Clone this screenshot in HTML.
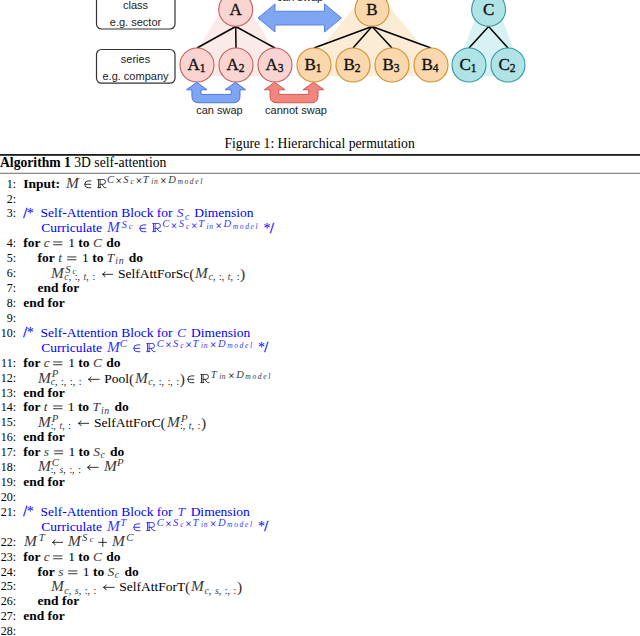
<!DOCTYPE html>
<html><head><meta charset="utf-8">
<style>
html,body{margin:0;padding:0;background:#fff;}
body{width:640px;height:636px;position:relative;overflow:hidden;font-family:"Liberation Serif",serif;color:#000;}
#dg{position:absolute;left:0;top:0;}
.cap{position:absolute;white-space:nowrap;font-size:13.5px;line-height:20px;height:20px;}
.ln{position:absolute;left:0;width:640px;white-space:nowrap;font-size:13.5px;line-height:20px;height:20px;}
.no{position:absolute;right:624px;}
.tx{position:absolute;}
b{font-weight:bold;}
i{font-style:italic;opacity:0.8;}
.cm{color:#0000ff;}
.rule{position:absolute;left:0;width:640px;background:#000;}
.sp{position:relative;font-size:10.8px;line-height:0;letter-spacing:0.4px;}
.sb{position:relative;font-size:9.8px;line-height:0;word-spacing:1.2px;}
.ss{position:relative;font-size:8.4px;line-height:0;letter-spacing:0.5px;margin-left:0.8px;}
.stk{display:inline-grid;line-height:0;}
.stk>.sp,.stk>.sb{grid-area:1/1;}
.sym{vertical-align:-1px;}
.in{margin:0 5px 0 5px;}
.rr{margin-right:0.6px;}
.eq{margin:0 5.2px 0 3.6px;}
.pl{margin:0 4.4px 0 3.6px;}
.ar{margin:0 4.6px 0 6.5px;}
.M{display:inline-block;transform:scale(1.14,1.04);transform-origin:0 14.56px;margin-right:1.9px;}
.S{margin-right:0.6px;}
.D{margin-right:0.8px;}
.C{margin-right:1px;}
.s{margin-right:1px;}
.Mp{margin-left:1.5px;}
.t{margin-right:1.8px;}
.T{margin-right:0.9px;}
.ls{letter-spacing:0.7px;}
.dsp{display:inline-block;width:4.6px;}
.tm{}
.ab{display:inline-block;position:relative;height:0;vertical-align:baseline;}
.ai{position:absolute;line-height:0;white-space:nowrap;}
.cend{margin-left:4px;}
.ast{font-size:14px;position:relative;top:0.3px;}
.sl{font-size:14px;position:relative;top:0.4px;margin-left:-0.6px;-webkit-text-stroke:0.3px currentColor;}
.pa{font-size:15.5px;position:relative;top:0.9px;margin:0 -0.4px 0 -0.2px;opacity:0.85;}
.pr{margin:0 -0.2px 0 0.6px;}
.csp{display:inline-block;width:6.9px;}
.sl2{font-size:14px;position:relative;top:0.4px;-webkit-text-stroke:0.3px currentColor;}
.ast2{font-size:14px;position:relative;top:0.3px;margin-left:-0.4px;}
.no{font-size:12px;}
</style></head><body>
<svg id="dg" width="640" height="125" viewBox="0 0 640 125">
  <!-- triangles -->
  <polygon points="235.7,-14 182,76 289.4,76" fill="#fbebe8"/>
  <polygon points="372,-14 297.3,76 446.7,76" fill="#fcebd5"/>
  <polygon points="488.6,-16 453.2,76 524,76" fill="#d8f1f3"/>
  <!-- edges -->
  <g stroke="#000" stroke-width="1.5" fill="none">
    <line x1="235.7" y1="26.5" x2="197" y2="48"/>
    <line x1="235.7" y1="26.5" x2="236" y2="48"/>
    <line x1="235.7" y1="26.5" x2="275" y2="48"/>
    <line x1="372" y1="26.5" x2="314" y2="48"/>
    <line x1="372" y1="26.5" x2="353" y2="48"/>
    <line x1="372" y1="26.5" x2="392" y2="48"/>
    <line x1="372" y1="26.5" x2="431" y2="48"/>
    <line x1="488.6" y1="26.5" x2="469" y2="48"/>
    <line x1="488.6" y1="26.5" x2="508" y2="48"/>
  </g>
  <!-- circles -->
  <g stroke-width="1.1">
    <circle cx="235.7" cy="9.3" r="17" fill="#f9d4d1" stroke="#c0605a"/>
    <circle cx="197" cy="65" r="17" fill="#f9d4d1" stroke="#c0605a"/>
    <circle cx="236" cy="65" r="17" fill="#f9d4d1" stroke="#c0605a"/>
    <circle cx="275" cy="65" r="17" fill="#f9d4d1" stroke="#c0605a"/>
    <circle cx="372" cy="9.3" r="17" fill="#fad7ac" stroke="#d0902f"/>
    <circle cx="314" cy="65" r="17" fill="#fad7ac" stroke="#d0902f"/>
    <circle cx="353" cy="65" r="17" fill="#fad7ac" stroke="#d0902f"/>
    <circle cx="392" cy="65" r="17" fill="#fad7ac" stroke="#d0902f"/>
    <circle cx="431" cy="65" r="17" fill="#fad7ac" stroke="#d0902f"/>
    <circle cx="488.6" cy="9.3" r="17" fill="#b0e3e6" stroke="#2e9aa2"/>
    <circle cx="469" cy="65" r="17" fill="#b0e3e6" stroke="#2e9aa2"/>
    <circle cx="508" cy="65" r="17" fill="#b0e3e6" stroke="#2e9aa2"/>
  </g>
  <!-- labels -->
  <g font-family="Liberation Serif" font-size="17" fill="#111" stroke="#111" stroke-width="0.35" text-anchor="middle">
    <text x="235.7" y="14.7">A</text>
    <text x="372" y="14.7">B</text>
    <text x="488.6" y="14.7">C</text>
  </g>
  <g font-family="Liberation Serif" font-size="17" fill="#111" stroke="#111" stroke-width="0.35">
    <text x="187.5" y="70.1">A<tspan font-size="11.5" dy="2">1</tspan></text>
    <text x="226.5" y="70.1">A<tspan font-size="11.5" dy="2">2</tspan></text>
    <text x="265.5" y="70.1">A<tspan font-size="11.5" dy="2">3</tspan></text>
    <text x="304.5" y="70.1">B<tspan font-size="11.5" dy="2">1</tspan></text>
    <text x="343.5" y="70.1">B<tspan font-size="11.5" dy="2">2</tspan></text>
    <text x="382.5" y="70.1">B<tspan font-size="11.5" dy="2">3</tspan></text>
    <text x="421.5" y="70.1">B<tspan font-size="11.5" dy="2">4</tspan></text>
    <text x="459.5" y="70.1">C<tspan font-size="11.5" dy="2">1</tspan></text>
    <text x="498.5" y="70.1">C<tspan font-size="11.5" dy="2">2</tspan></text>
  </g>
  <!-- boxes -->
  <g fill="#fff" stroke="#333" stroke-width="1.2">
    <rect x="96.5" y="-5" width="78.5" height="34" rx="5"/>
    <rect x="96.5" y="49.5" width="78.5" height="33.7" rx="5"/>
  </g>
  <g font-family="Liberation Sans" font-size="11" fill="#222" text-anchor="middle">
    <text x="135.5" y="9.2">class</text>
    <text x="135.5" y="25.7">e.g. sector</text>
    <text x="135.5" y="63">series</text>
    <text x="135.5" y="79.5">e.g. company</text>
    <text x="219.5" y="113.8">can swap</text>
    <text x="296" y="113.8">cannot swap</text>
    <text x="300" y="1.3">can swap</text>
  </g>
  <!-- double arrow -->
  <polygon points="258,18 275,3.9 275,11.25 324.5,11.25 324.5,3.9 341.4,18 324.5,32 324.5,25 275,25 275,32" fill="#7ea6f2" stroke="#5a80e6" stroke-width="1"/>
  <!-- U arrows -->
  <path d="M196.8,82.3 L207,89.75 L201,89.75 L201,94.4 L231.2,94.4 L231.2,89.75 L225,89.75 L235.5,82.3 L245.7,89.75 L240,89.75 L240,96 Q240,102.75 233.2,102.75 L198.7,102.75 Q191.9,102.75 191.9,96 L191.9,89.75 L186.5,89.75 Z" fill="#7ea6f2" stroke="#4f74e0" stroke-width="1" stroke-linejoin="round"/>
  <path d="M274.6,82.3 L285,89.75 L278.8,89.75 L278.8,94.4 L308.8,94.4 L308.8,89.75 L303,89.75 L313.6,82.3 L323.8,89.75 L318,89.75 L318,96 Q318,102.75 311.2,102.75 L276.8,102.75 Q270,102.75 270,96 L270,89.75 L264.4,89.75 Z" fill="#f0877f" stroke="#d9534f" stroke-width="1" stroke-linejoin="round"/>
</svg>

<div class="cap" style="left:224.4px;top:134.3px;font-size:13.7px">Figure 1: Hierarchical permutation</div>
<div class="rule" style="top:154px;height:1px;background:#1a1a1a"></div><div class="rule" style="top:155px;height:1px;background:#4a4a4a"></div>
<div class="rule" style="top:172px;height:1px;background:#e0e0e0"></div><div class="rule" style="top:173px;height:1px;background:#8a8a8a"></div>
<div class="ln" style="top:153.1px;font-size:13.65px"><span class="tx" style="left:0"><b>Algorithm 1</b> 3D self-attention</span></div>

<div id="alg">
<div class="ln" style="top:173.65px"><span class="no">1:</span><span class="tx " style="left:23.2px"><b>Input:</b><span style="margin-left:6.3px"></span><i class="M">M</i><svg class="sym in" style="margin:0 4.4px 0 3.8px" width="9" height="10" viewBox="0 0 9 10"><path d="M8.3,1.9H5.2A3.4,3.4 0 0 0 5.2,8.7H8.3M1.6,5.3H8.1" fill="none" stroke="currentColor" stroke-width="0.8"/></svg><svg class="sym rr" width="10" height="10" viewBox="0 0 10 10"><path d="M0.3,0.4H6A2.45,2.45 0 0 1 6,5.3H2.6M1.5,0.4V8.6M3.1,0.4V8.6M0.3,8.6H4.2M4.6,5.3L7.4,8.6H9.4" fill="none" stroke="currentColor" stroke-width="0.75"/></svg><span class="ab" style="width:97px"><span class="ai" style="left:-0.3px;top:-8.08px;font-size:10.6px;"><i>C</i></span><span class="ai" style="left:8.0px;top:-6.85px;font-size:12px;">×</span><span class="ai" style="left:16.1px;top:-8.08px;font-size:10.6px;"><i>S</i></span><span class="ai" style="left:23.4px;top:-5.76px;font-size:7.6px;"><i>c</i></span><span class="ai" style="left:28.2px;top:-6.85px;font-size:12px;">×</span><span class="ai" style="left:35.6px;top:-8.08px;font-size:10.6px;"><i>T</i></span><span class="ai" style="left:44.0px;top:-5.76px;font-size:7.6px;letter-spacing:0.6px"><i>in</i></span><span class="ai" style="left:52.8px;top:-6.85px;font-size:12px;">×</span><span class="ai" style="left:61.0px;top:-8.08px;font-size:10.6px;"><i>D</i></span><span class="ai" style="left:70.2px;top:-5.76px;font-size:7.6px;letter-spacing:1.6px"><i>model</i></span></span></span></div>
<div class="ln" style="top:188.57px"><span class="no">2:</span></div>
<div class="ln" style="top:203.49px"><span class="no">3:</span><span class="tx cm" style="left:23.2px"><span class="sl2">/</span><span class="ast2">*</span><span class="csp"></span>Self-Attention Block for <i class="S" style="margin-left:0.7px;margin-right:1.6px">S</i><span class="sb" style="top:2.2px"><i>c</i></span><span class="dsp" style="width:5px"></span>Dimension</span></div>
<div class="ln" style="top:218.41px"><span class="tx cm" style="left:41.2px">Curriculate <span style="margin-left:1.3px"></span><i class="M">M</i><span class="sp" style="top:-4.9px"><i class="S" style="margin-left:1.8px">S</i><span class="ss" style="top:1.6px"><i>c</i></span></span><svg class="sym in" width="9" height="10" viewBox="0 0 9 10"><path d="M8.3,1.9H5.2A3.4,3.4 0 0 0 5.2,8.7H8.3M1.6,5.3H8.1" fill="none" stroke="currentColor" stroke-width="0.8"/></svg><svg class="sym rr" width="10" height="10" viewBox="0 0 10 10"><path d="M0.3,0.4H6A2.45,2.45 0 0 1 6,5.3H2.6M1.5,0.4V8.6M3.1,0.4V8.6M0.3,8.6H4.2M4.6,5.3L7.4,8.6H9.4" fill="none" stroke="currentColor" stroke-width="0.75"/></svg><span class="ab" style="width:97px"><span class="ai" style="left:-0.3px;top:-8.08px;font-size:10.6px;"><i>C</i></span><span class="ai" style="left:8.0px;top:-6.85px;font-size:12px;">×</span><span class="ai" style="left:16.1px;top:-8.08px;font-size:10.6px;"><i>S</i></span><span class="ai" style="left:23.4px;top:-5.76px;font-size:7.6px;"><i>c</i></span><span class="ai" style="left:28.2px;top:-6.85px;font-size:12px;">×</span><span class="ai" style="left:35.6px;top:-8.08px;font-size:10.6px;"><i>T</i></span><span class="ai" style="left:44.0px;top:-5.76px;font-size:7.6px;letter-spacing:0.6px"><i>in</i></span><span class="ai" style="left:52.8px;top:-6.85px;font-size:12px;">×</span><span class="ai" style="left:61.0px;top:-8.08px;font-size:10.6px;"><i>D</i></span><span class="ai" style="left:70.2px;top:-5.76px;font-size:7.6px;letter-spacing:1.6px"><i>model</i></span></span><span class="cend"><span class="ast">*</span><span class="sl">/</span></span></span></div>
<div class="ln" style="top:233.33px"><span class="no">4:</span><span class="tx " style="left:23.2px"><b>for</b> <i>c</i><svg class="sym eq" width="9.6" height="10" viewBox="0 0 9.6 10"><path d="M0.2,3.95H9.4M0.2,6.75H9.4" fill="none" stroke="currentColor" stroke-width="0.8"/></svg>1 <b>to</b> <i class="C">C</i> <b>do</b></span></div>
<div class="ln" style="top:248.25px"><span class="no">5:</span><span class="tx " style="left:37.5px"><b>for</b> <i class="t">t</i><svg class="sym eq" width="9.6" height="10" viewBox="0 0 9.6 10"><path d="M0.2,3.95H9.4M0.2,6.75H9.4" fill="none" stroke="currentColor" stroke-width="0.8"/></svg>1 <b>to</b> <i class="T">T</i><span class="sb" style="top:2.2px"><i class="ls">in</i></span><span class="dsp"></span><b>do</b></span></div>
<div class="ln" style="top:263.17px"><span class="no">6:</span><span class="tx " style="left:51.2px"><i class="M">M</i><span class="stk"><span class="sp" style="top:-5.3px;margin-left:1px"><i class="S">S</i><span class="ss" style="top:1.6px"><i>c</i></span></span><span class="sb" style="top:3.0px"><i>c</i>, :, <i>t</i>, :</span></span><svg class="sym ar" width="11.8" height="10" viewBox="0 0 11.8 10"><path d="M0.6,5.35H11.6M3.2,2.6Q2.6,4.6 0.4,5.35Q2.6,6.1 3.2,8.1" fill="none" stroke="currentColor" stroke-width="0.8"/></svg>SelfAttForSc<span class="pa">(</span><i class="M Mp">M</i><span class="sb" style="top:2.2px"><i>c</i>, :, <i>t</i>, :</span><span class="pa pr">)</span></span></div>
<div class="ln" style="top:278.09px"><span class="no">7:</span><span class="tx " style="left:37.5px"><b>end for</b></span></div>
<div class="ln" style="top:293.01px"><span class="no">8:</span><span class="tx " style="left:23.2px"><b>end for</b></span></div>
<div class="ln" style="top:307.93px"><span class="no">9:</span></div>
<div class="ln" style="top:322.85px"><span class="no">10:</span><span class="tx cm" style="left:23.2px"><span class="sl2">/</span><span class="ast2">*</span><span class="csp"></span>Self-Attention Block for <i class="C" style="margin-left:1px;margin-right:1.6px">C</i> Dimension</span></div>
<div class="ln" style="top:337.77px"><span class="tx cm" style="left:41.2px">Curriculate <span style="margin-left:1.3px"></span><i class="M">M</i><span class="sp" style="top:-4.9px"><i>C</i></span><svg class="sym in" width="9" height="10" viewBox="0 0 9 10"><path d="M8.3,1.9H5.2A3.4,3.4 0 0 0 5.2,8.7H8.3M1.6,5.3H8.1" fill="none" stroke="currentColor" stroke-width="0.8"/></svg><svg class="sym rr" width="10" height="10" viewBox="0 0 10 10"><path d="M0.3,0.4H6A2.45,2.45 0 0 1 6,5.3H2.6M1.5,0.4V8.6M3.1,0.4V8.6M0.3,8.6H4.2M4.6,5.3L7.4,8.6H9.4" fill="none" stroke="currentColor" stroke-width="0.75"/></svg><span class="ab" style="width:97px"><span class="ai" style="left:-0.3px;top:-8.08px;font-size:10.6px;"><i>C</i></span><span class="ai" style="left:8.0px;top:-6.85px;font-size:12px;">×</span><span class="ai" style="left:16.1px;top:-8.08px;font-size:10.6px;"><i>S</i></span><span class="ai" style="left:23.4px;top:-5.76px;font-size:7.6px;"><i>c</i></span><span class="ai" style="left:28.2px;top:-6.85px;font-size:12px;">×</span><span class="ai" style="left:35.6px;top:-8.08px;font-size:10.6px;"><i>T</i></span><span class="ai" style="left:44.0px;top:-5.76px;font-size:7.6px;letter-spacing:0.6px"><i>in</i></span><span class="ai" style="left:52.8px;top:-6.85px;font-size:12px;">×</span><span class="ai" style="left:61.0px;top:-8.08px;font-size:10.6px;"><i>D</i></span><span class="ai" style="left:70.2px;top:-5.76px;font-size:7.6px;letter-spacing:1.6px"><i>model</i></span></span><span class="cend"><span class="ast">*</span><span class="sl">/</span></span></span></div>
<div class="ln" style="top:352.69px"><span class="no">11:</span><span class="tx " style="left:23.2px"><b>for</b> <i>c</i><svg class="sym eq" width="9.6" height="10" viewBox="0 0 9.6 10"><path d="M0.2,3.95H9.4M0.2,6.75H9.4" fill="none" stroke="currentColor" stroke-width="0.8"/></svg>1 <b>to</b> <i class="C">C</i> <b>do</b></span></div>
<div class="ln" style="top:367.61px"><span class="no">12:</span><span class="tx " style="left:37.5px"><i class="M">M</i><span class="stk"><span class="sp" style="top:-5.3px;margin-left:1px"><i>P</i></span><span class="sb" style="top:3.0px"><i>c</i>, :, :, :</span></span><svg class="sym ar" width="11.8" height="10" viewBox="0 0 11.8 10"><path d="M0.6,5.35H11.6M3.2,2.6Q2.6,4.6 0.4,5.35Q2.6,6.1 3.2,8.1" fill="none" stroke="currentColor" stroke-width="0.8"/></svg>Pool<span class="pa">(</span><i class="M Mp">M</i><span class="sb" style="top:2.2px"><i>c</i>, :, :, :</span><span class="pa pr">)</span><svg class="sym in" style="margin-left:1.6px" width="9" height="10" viewBox="0 0 9 10"><path d="M8.3,1.9H5.2A3.4,3.4 0 0 0 5.2,8.7H8.3M1.6,5.3H8.1" fill="none" stroke="currentColor" stroke-width="0.8"/></svg><svg class="sym rr" width="10" height="10" viewBox="0 0 10 10"><path d="M0.3,0.4H6A2.45,2.45 0 0 1 6,5.3H2.6M1.5,0.4V8.6M3.1,0.4V8.6M0.3,8.6H4.2M4.6,5.3L7.4,8.6H9.4" fill="none" stroke="currentColor" stroke-width="0.75"/></svg><span class="ab" style="width:60px"><span class="ai" style="left:-0.2px;top:-8.08px;font-size:10.6px;"><i>T</i></span><span class="ai" style="left:8.2px;top:-5.76px;font-size:7.6px;letter-spacing:0.6px"><i>in</i></span><span class="ai" style="left:17.0px;top:-6.85px;font-size:12px;">×</span><span class="ai" style="left:25.2px;top:-8.08px;font-size:10.6px;"><i>D</i></span><span class="ai" style="left:34.4px;top:-5.76px;font-size:7.6px;letter-spacing:1.6px"><i>model</i></span></span></span></div>
<div class="ln" style="top:382.53px"><span class="no">13:</span><span class="tx " style="left:23.2px"><b>end for</b></span></div>
<div class="ln" style="top:397.45px"><span class="no">14:</span><span class="tx " style="left:23.2px"><b>for</b> <i class="t">t</i><svg class="sym eq" width="9.6" height="10" viewBox="0 0 9.6 10"><path d="M0.2,3.95H9.4M0.2,6.75H9.4" fill="none" stroke="currentColor" stroke-width="0.8"/></svg>1 <b>to</b> <i class="T">T</i><span class="sb" style="top:2.2px"><i class="ls">in</i></span><span class="dsp"></span><b>do</b></span></div>
<div class="ln" style="top:412.37px"><span class="no">15:</span><span class="tx " style="left:37.5px"><i class="M">M</i><span class="stk"><span class="sp" style="top:-5.3px;margin-left:1px"><i>P</i></span><span class="sb" style="top:3.0px">:, <i>t</i>, :</span></span><svg class="sym ar" width="11.8" height="10" viewBox="0 0 11.8 10"><path d="M0.6,5.35H11.6M3.2,2.6Q2.6,4.6 0.4,5.35Q2.6,6.1 3.2,8.1" fill="none" stroke="currentColor" stroke-width="0.8"/></svg>SelfAttForC<span class="pa">(</span><i class="M Mp">M</i><span class="stk"><span class="sp" style="top:-5.3px;margin-left:1px"><i>P</i></span><span class="sb" style="top:3.0px">:, <i>t</i>, :</span></span><span class="pa pr">)</span></span></div>
<div class="ln" style="top:427.29px"><span class="no">16:</span><span class="tx " style="left:23.2px"><b>end for</b></span></div>
<div class="ln" style="top:442.21px"><span class="no">17:</span><span class="tx " style="left:23.2px"><b>for</b> <i class="s">s</i><svg class="sym eq" width="9.6" height="10" viewBox="0 0 9.6 10"><path d="M0.2,3.95H9.4M0.2,6.75H9.4" fill="none" stroke="currentColor" stroke-width="0.8"/></svg>1 <b>to</b> <i class="S">S</i><span class="sb" style="top:2.2px"><i>c</i></span><span class="dsp" style="width:5.2px"></span><b>do</b></span></div>
<div class="ln" style="top:457.13px"><span class="no">18:</span><span class="tx " style="left:37.5px"><i class="M">M</i><span class="stk"><span class="sp" style="top:-5.3px;margin-left:1px"><i>C</i></span><span class="sb" style="top:3.0px">:, <i>s</i>, :, :</span></span><svg class="sym ar" width="11.8" height="10" viewBox="0 0 11.8 10"><path d="M0.6,5.35H11.6M3.2,2.6Q2.6,4.6 0.4,5.35Q2.6,6.1 3.2,8.1" fill="none" stroke="currentColor" stroke-width="0.8"/></svg><i class="M">M</i><span class="sp" style="top:-4.9px"><i>P</i></span></span></div>
<div class="ln" style="top:472.05px"><span class="no">19:</span><span class="tx " style="left:23.2px"><b>end for</b></span></div>
<div class="ln" style="top:486.97px"><span class="no">20:</span></div>
<div class="ln" style="top:501.89px"><span class="no">21:</span><span class="tx cm" style="left:23.2px"><span class="sl2">/</span><span class="ast2">*</span><span class="csp"></span>Self-Attention Block for <i style="margin-left:1.5px;margin-right:2.3px">T</i> Dimension</span></div>
<div class="ln" style="top:516.81px"><span class="tx cm" style="left:41.2px">Curriculate <span style="margin-left:1.3px"></span><i class="M">M</i><span class="sp" style="top:-4.9px"><i style="margin:0 0.7px 0 0.5px">T</i></span><svg class="sym in" width="9" height="10" viewBox="0 0 9 10"><path d="M8.3,1.9H5.2A3.4,3.4 0 0 0 5.2,8.7H8.3M1.6,5.3H8.1" fill="none" stroke="currentColor" stroke-width="0.8"/></svg><svg class="sym rr" width="10" height="10" viewBox="0 0 10 10"><path d="M0.3,0.4H6A2.45,2.45 0 0 1 6,5.3H2.6M1.5,0.4V8.6M3.1,0.4V8.6M0.3,8.6H4.2M4.6,5.3L7.4,8.6H9.4" fill="none" stroke="currentColor" stroke-width="0.75"/></svg><span class="ab" style="width:97px"><span class="ai" style="left:-0.3px;top:-8.08px;font-size:10.6px;"><i>C</i></span><span class="ai" style="left:8.0px;top:-6.85px;font-size:12px;">×</span><span class="ai" style="left:16.1px;top:-8.08px;font-size:10.6px;"><i>S</i></span><span class="ai" style="left:23.4px;top:-5.76px;font-size:7.6px;"><i>c</i></span><span class="ai" style="left:28.2px;top:-6.85px;font-size:12px;">×</span><span class="ai" style="left:35.6px;top:-8.08px;font-size:10.6px;"><i>T</i></span><span class="ai" style="left:44.0px;top:-5.76px;font-size:7.6px;letter-spacing:0.6px"><i>in</i></span><span class="ai" style="left:52.8px;top:-6.85px;font-size:12px;">×</span><span class="ai" style="left:61.0px;top:-8.08px;font-size:10.6px;"><i>D</i></span><span class="ai" style="left:70.2px;top:-5.76px;font-size:7.6px;letter-spacing:1.6px"><i>model</i></span></span><span class="cend"><span class="ast">*</span><span class="sl">/</span></span></span></div>
<div class="ln" style="top:531.73px"><span class="no">22:</span><span class="tx " style="left:23.2px"><span style="margin-left:1.3px"></span><i class="M">M</i><span class="sp" style="top:-4.9px"><i style="margin-left:1px">T</i></span><svg class="sym ar" width="11.8" height="10" viewBox="0 0 11.8 10"><path d="M0.6,5.35H11.6M3.2,2.6Q2.6,4.6 0.4,5.35Q2.6,6.1 3.2,8.1" fill="none" stroke="currentColor" stroke-width="0.8"/></svg><i class="M">M</i><span class="sp" style="top:-4.9px"><i class="S" style="margin-left:1.0px;margin-right:1.2px">S</i><span class="ss" style="top:1.6px"><i>c</i></span></span><svg class="sym pl" width="9.6" height="10" viewBox="0 0 9.6 10"><path d="M0.2,5.35H9.4M4.8,0.8V9.9" fill="none" stroke="currentColor" stroke-width="0.8"/></svg><i class="M">M</i><span class="sp" style="top:-4.9px"><i style="margin-left:1.4px">C</i></span></span></div>
<div class="ln" style="top:546.65px"><span class="no">23:</span><span class="tx " style="left:23.2px"><b>for</b> <i>c</i><svg class="sym eq" width="9.6" height="10" viewBox="0 0 9.6 10"><path d="M0.2,3.95H9.4M0.2,6.75H9.4" fill="none" stroke="currentColor" stroke-width="0.8"/></svg>1 <b>to</b> <i class="C">C</i> <b>do</b></span></div>
<div class="ln" style="top:561.57px"><span class="no">24:</span><span class="tx " style="left:37.5px"><b>for</b> <i class="s">s</i><svg class="sym eq" width="9.6" height="10" viewBox="0 0 9.6 10"><path d="M0.2,3.95H9.4M0.2,6.75H9.4" fill="none" stroke="currentColor" stroke-width="0.8"/></svg>1 <b>to</b> <i class="S">S</i><span class="sb" style="top:2.2px"><i>c</i></span><span class="dsp" style="width:5.2px"></span><b>do</b></span></div>
<div class="ln" style="top:576.49px"><span class="no">25:</span><span class="tx " style="left:51.2px"><i class="M">M</i><span class="sb" style="top:2.2px"><i>c</i>, <i>s</i>, :, :</span><svg class="sym ar" width="11.8" height="10" viewBox="0 0 11.8 10"><path d="M0.6,5.35H11.6M3.2,2.6Q2.6,4.6 0.4,5.35Q2.6,6.1 3.2,8.1" fill="none" stroke="currentColor" stroke-width="0.8"/></svg>SelfAttForT<span class="pa">(</span><i class="M Mp">M</i><span class="sb" style="top:2.2px"><i>c</i>, <i>s</i>, :, :</span><span class="pa pr">)</span></span></div>
<div class="ln" style="top:591.41px"><span class="no">26:</span><span class="tx " style="left:37.5px"><b>end for</b></span></div>
<div class="ln" style="top:606.33px"><span class="no">27:</span><span class="tx " style="left:23.2px"><b>end for</b></span></div>
<div class="ln" style="top:621.25px"><span class="no">28:</span></div>
</div>
</body></html>
